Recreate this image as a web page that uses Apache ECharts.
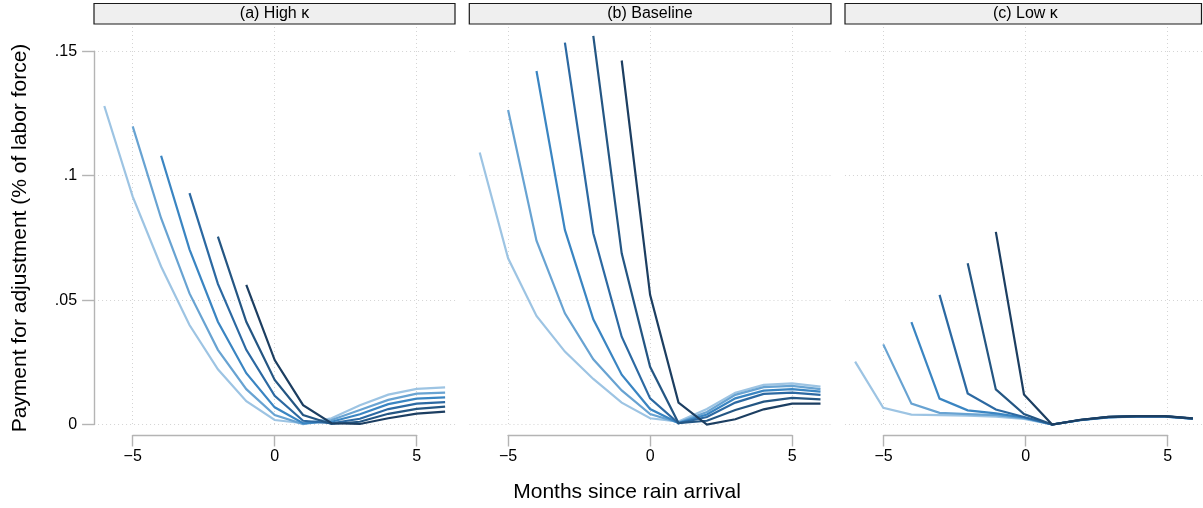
<!DOCTYPE html>
<html>
<head>
<meta charset="utf-8">
<script src="https://cdn.jsdelivr.net/npm/echarts@6/dist/echarts.min.js"></script>
<style>
html,body{margin:0;padding:0;background:#fff;}
#chart{width:1203px;height:508px;}
</style>
</head>
<body>
<div id="chart"></div>
<script>
// ---------------- data ----------------
const months = [-6,-5,-4,-3,-2,-1,0,1,2,3,4,5,6];
const panelTitles = ['(a) High \u03ba', '(b) Baseline', '(c) Low \u03ba'];
const xTicks = [-5, 0, 5];
const xTickLabels = ['\u22125', '0', '5'];
const yTicks = [0, 0.05, 0.1, 0.15];
const yTickLabels = ['0', '.05', '.1', '.15'];
const yTitle = 'Payment for adjustment (% of labor force)';
const xTitle = 'Months since rain arrival';

// (a) High kappa: one line per starting month (-6 ... -1)
const highK1 = [0.1280,0.0916,0.0635,0.0400,0.0222,0.0094,0.0018,0.0005,0.0025,0.0077,0.0120,0.0143,0.0149];
const highK2 = [null,0.1198,0.0829,0.0527,0.0300,0.0142,0.0038,0.0002,0.0018,0.0058,0.0099,0.0124,0.0128];
const highK3 = [null,null,0.1080,0.0704,0.0413,0.0206,0.0069,0.0005,0.0011,0.0041,0.0082,0.0104,0.0109];
const highK4 = [null,null,null,0.0930,0.0565,0.0300,0.0115,0.0015,0.0005,0.0023,0.0062,0.0084,0.0090];
const highK5 = [null,null,null,null,0.0755,0.0413,0.0179,0.0038,0.0002,0.0011,0.0043,0.0063,0.0072];
const highK6 = [null,null,null,null,null,0.0561,0.0259,0.0078,0.0005,0.0002,0.0025,0.0044,0.0052];

// (b) Baseline
const base1 = [0.1093,0.0668,0.0436,0.0293,0.0183,0.0088,0.0025,0.0012,0.0062,0.0128,0.0159,0.0165,0.0152];
const base2 = [null,0.1264,0.0739,0.0447,0.0262,0.0137,0.0042,0.0008,0.0050,0.0119,0.0150,0.0155,0.0142];
const base3 = [null,null,0.1421,0.0782,0.0423,0.0200,0.0062,0.0006,0.0040,0.0105,0.0136,0.0142,0.0132];
const base4 = [null,null,null,0.1535,0.0769,0.0353,0.0105,0.0005,0.0030,0.0088,0.0123,0.0128,0.0119];
const base5 = [null,null,null,null,0.1562,0.0688,0.0232,0.0006,0.0015,0.0058,0.0092,0.0107,0.0101];
const base6 = [null,null,null,null,null,0.1463,0.0521,0.0088,0.0000,0.0021,0.0061,0.0084,0.0084];

// (c) Low kappa
const lowK1 = [0.0253,0.0067,0.0040,0.0038,0.0036,0.0032,0.0022,0.0000,0.0017,0.0029,0.0032,0.0032,0.0023];
const lowK2 = [null,0.0322,0.0084,0.0047,0.0042,0.0038,0.0025,0.0000,0.0017,0.0029,0.0033,0.0032,0.0023];
const lowK3 = [null,null,0.0411,0.0104,0.0057,0.0045,0.0028,0.0000,0.0018,0.0030,0.0033,0.0033,0.0024];
const lowK4 = [null,null,null,0.0521,0.0125,0.0060,0.0030,0.0000,0.0018,0.0030,0.0033,0.0033,0.0024];
const lowK5 = [null,null,null,null,0.0648,0.0141,0.0042,0.0000,0.0018,0.0031,0.0034,0.0034,0.0024];
const lowK6 = [null,null,null,null,null,0.0774,0.0121,0.0000,0.0019,0.0031,0.0034,0.0034,0.0025];

const panels = [
  [highK1, highK2, highK3, highK4, highK5, highK6],
  [base1, base2, base3, base4, base5, base6],
  [lowK1, lowK2, lowK3, lowK4, lowK5, lowK6]
];

// ---------------- style / layout ----------------
const colors = ['#9dc4e3', '#68a3d2', '#3a85c2', '#2c69a2', '#245683', '#1c3e61'];
const FONT = '"Liberation Sans", Arial, Helvetica, sans-serif';
const centers = [274.7, 650.1, 1025.6];   // pixel of month 0 in each panel
const unitPx = 28.4;
const xHalf = 6.36;
const plotTop = 51.3, plotBottom = 424.5;
const gridColor = '#d4d4d4';
const axisColor = '#b4b4b4';
const stripBox = [[94, 455], [469.3, 831], [845, 1201.5]];

const chart = echarts.init(document.getElementById('chart'), null, {renderer: 'canvas'});

const grids = [], xAxes = [], yAxes = [], series = [], graphics = [];

panels.forEach((lines, p) => {
  const c = centers[p];
  // data grid
  grids.push({left: c - xHalf * unitPx, width: 2 * xHalf * unitPx, top: plotTop, height: plotBottom - plotTop, containLabel: false});
  xAxes.push({gridIndex: 2 * p, type: 'value', min: -xHalf, max: xHalf, show: false});
  yAxes.push({
    gridIndex: 2 * p, type: 'value', min: 0, max: 0.15, interval: 0.05, position: 'left',
    axisLine: {show: p === 0, onZero: false, lineStyle: {color: axisColor, width: 1.4}},
    axisTick: {show: p === 0, length: 12, lineStyle: {color: axisColor, width: 1.4}},
    axisLabel: {
      show: p === 0, margin: 17, color: '#000', fontSize: 16, fontFamily: FONT,
      formatter: v => { const i = yTicks.findIndex(t => Math.abs(t - v) < 1e-9); return i >= 0 ? yTickLabels[i] : ''; }
    },
    splitLine: {show: true, lineStyle: {color: gridColor, type: [1, 3], width: 1}}
  });
  // axis grid (x axis from -5 to 5, vertical grid lines)
  grids.push({left: c - 5 * unitPx, width: 10 * unitPx, top: 27, height: plotBottom - 27, containLabel: false});
  xAxes.push({
    gridIndex: 2 * p + 1, type: 'value', min: -5, max: 5, interval: 5, position: 'bottom', offset: 10.5,
    axisLine: {show: true, onZero: false, lineStyle: {color: axisColor, width: 1.4}},
    axisTick: {show: true, length: 11.5, lineStyle: {color: axisColor, width: 1.4}},
    axisLabel: {
      margin: 14, color: '#000', fontSize: 16, fontFamily: FONT,
      formatter: v => { const i = xTicks.indexOf(Math.round(v)); return i >= 0 ? xTickLabels[i] : ''; }
    },
    splitLine: {show: true, lineStyle: {color: gridColor, type: [1, 3], width: 1}}
  });
  yAxes.push({gridIndex: 2 * p + 1, type: 'value', min: 0, max: 1, show: false});

  lines.forEach((vals, k) => {
    series.push({
      type: 'line', xAxisIndex: 2 * p, yAxisIndex: 2 * p,
      data: months.map((m, i) => vals[i] === null ? null : [m, vals[i]]).filter(d => d !== null),
      symbol: 'none', clip: false, silent: true, animation: false, z: 3 + k,
      lineStyle: {color: colors[k], width: 2.2, cap: 'butt', join: 'miter'}
    });
  });

  // strip header
  const sb = stripBox[p];
  graphics.push({
    type: 'rect', shape: {x: sb[0], y: 3.5, width: sb[1] - sb[0], height: 20.5},
    style: {fill: '#efefef', stroke: '#1a1a1a', lineWidth: 1.2}, z: 10
  });
  graphics.push({
    type: 'text', x: (stripBox[0][0] + stripBox[0][1]) / 2 + (centers[p] - centers[0]), y: 13.8, z: 11,
    style: {text: panelTitles[p], fill: '#000', font: '16px ' + FONT, textAlign: 'center', textVerticalAlign: 'middle'}
  });
});

graphics.push({
  type: 'text', x: 20, y: 238, rotation: Math.PI / 2, z: 11,
  style: {text: yTitle, fill: '#000', font: '21px ' + FONT, textAlign: 'center', textVerticalAlign: 'middle'}
});
graphics.push({
  type: 'text', x: 627, y: 492, z: 11,
  style: {text: xTitle, fill: '#000', font: '21px ' + FONT, textAlign: 'center', textVerticalAlign: 'middle'}
});

chart.setOption({
  animation: false,
  backgroundColor: '#fff',
  grid: grids,
  xAxis: xAxes,
  yAxis: yAxes,
  series: series,
  graphic: graphics
});
</script>
</body>
</html>
